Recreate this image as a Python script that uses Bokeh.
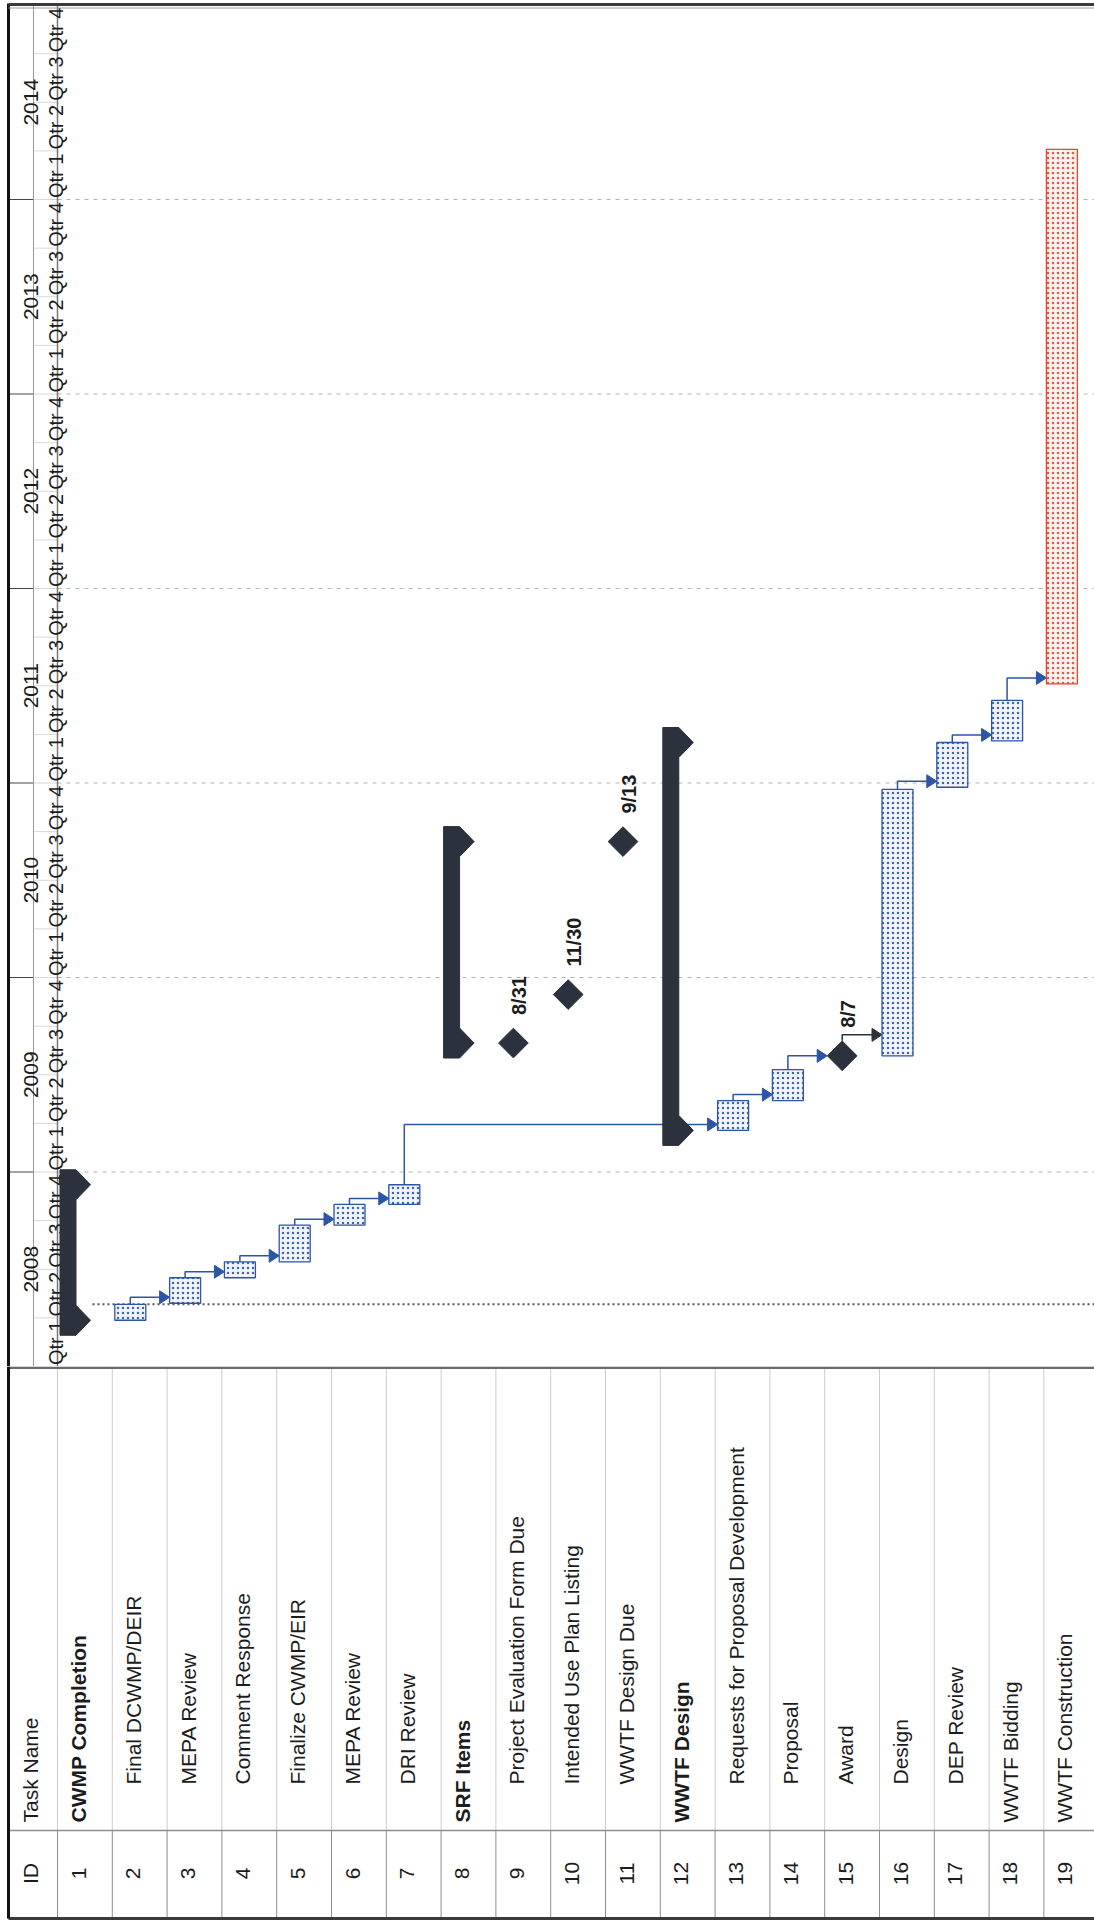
import numpy as np
import pandas as pd
from bokeh.plotting import figure
from bokeh.layouts import column
from bokeh.models import Range1d
from bokeh.core.properties import value
from bokeh.embed import file_html
from bokeh.resources import INLINE

# ---------------- data ----------------
task_ids = list(range(1, 20))
task_names = [
    "CWMP Completion", "Final DCWMP/DEIR", "MEPA Review", "Comment Response",
    "Finalize CWMP/EIR", "MEPA Review", "DRI Review", "SRF Items",
    "Project Evaluation Form Due", "Intended Use Plan Listing", "WWTF Design Due",
    "WWTF Design", "Requests for Proposal Development", "Proposal", "Award",
    "Design", "DEP Review", "WWTF Bidding", "WWTF Construction",
]
outline_level = [1, 2, 2, 2, 2, 2, 2, 1, 2, 2, 2, 1, 2, 2, 2, 2, 2, 1, 1]
task_type = ["summary", "task", "task", "task", "task", "task", "task", "summary",
             "milestone", "milestone", "milestone", "summary", "task", "task",
             "milestone", "task", "task", "task", "task"]
task_start = [None, "2008-03-28", "2008-04-29", "2008-06-16", "2008-07-16", "2008-09-23",
              "2008-11-01", None, "2009-08-31", "2009-11-30", "2010-09-13", None,
              "2009-03-20", "2009-05-15", "2009-08-07", "2009-08-07", "2010-12-24",
              "2011-03-21", "2011-07-06"]
task_finish = [None, "2008-04-27", "2008-06-16", "2008-07-16", "2008-09-23", "2008-11-01",
               "2008-12-08", None, "2009-08-31", "2009-11-30", "2010-09-13", None,
               "2009-05-15", "2009-07-12", "2009-08-07", "2010-12-20", "2011-03-18",
               "2011-06-05", "2014-04-05"]
critical = [False] * 18 + [True]
links_from = [2, 3, 4, 5, 6, 7, 13, 14, 15, 16, 17, 18]
links_to = [3, 4, 5, 6, 7, 13, 14, 15, 16, 17, 18, 19]
years = [2008, 2009, 2010, 2011, 2012, 2013, 2014]
quarter_labels = ["Qtr 1", "Qtr 2", "Qtr 3", "Qtr 4"]
status_date = "2008-04-27"

# ---------------- helpers ----------------
def dec_year(s):
    t = pd.Timestamp(s)
    n = 366 if t.is_leap_year else 365
    return t.year + (t.dayofyear - 1) / n

n_tasks = len(task_ids)
start = [dec_year(s) if s else None for s in task_start]
finish = [dec_year(s) if s else None for s in task_finish]
for i in range(n_tasks):
    if task_type[i] == "summary":
        kids = []
        for j in range(i + 1, n_tasks):
            if outline_level[j] <= outline_level[i]:
                break
            kids.append(j)
        start[i] = min(start[j] for j in kids)
        finish[i] = max(finish[j] for j in kids)

# layout constants (pixels)
W = 1094
H_CHART = 1366
H_TABLE = 554
RP = 54.8      # px per row
YP = 194.5     # px per year
X0 = -57 / RP
X1 = X0 + W / RP
T0 = 2008.0
T1 = T0 + H_CHART / YP

FONT = value("Liberation Sans")
DARK = "#2b323d"
BLUE = "#2d55a6"
RED = "#e8452c"
TXT = "#1c1c1c"

def px(v):
    return v / RP

def py(v):
    return v / YP

XL = px(8 - 57)     # outer left border
XQ = px(33 - 57)    # year / quarter divider

# ---------------- chart figure ----------------
pA = figure(width=W, height=H_CHART, x_range=Range1d(X0, X1), y_range=Range1d(T0, T1),
            output_backend="svg", toolbar_location=None, min_border=0,
            x_axis_location=None, y_axis_location=None, outline_line_color=None)
pA.grid.visible = False

# year gridlines
grid_years = [y for y in years[1:]]
pA.segment(x0=0, x1=X1, y0=grid_years, y1=grid_years, line_color="#b3b3b3",
           line_dash="4 5", line_width=1)
# status date line
sd = dec_year(status_date)
pA.segment(x0=[px(35)], x1=[X1], y0=[sd], y1=[sd], line_color="#555555",
           line_dash="2 3", line_width=2)

# header: quarter separators, year separators, dividers
qy = [y + q / 4 for y in years for q in range(4)] + [years[-1] + 1]
pA.segment(x0=XQ, x1=0, y0=qy, y1=qy, line_color="#b0b0b0", line_dash="1 1", line_width=1)
pA.segment(x0=XL, x1=XQ, y0=years + [years[-1] + 1], y1=years + [years[-1] + 1],
           line_color="#444444", line_width=1)
pA.segment(x0=[XQ, 0], x1=[XQ, 0], y0=T0, y1=T1 - py(4), line_color=["#999999", "#777777"],
           line_width=[1, 1.5])
pA.segment(x0=[XL], x1=[XL], y0=T0, y1=T1 - py(3), line_color="#111111", line_width=3)
pA.segment(x0=XL, x1=X1, y0=T1 - py(4), y1=T1 - py(4), line_color="#3a3a3a", line_width=3)
pA.segment(x0=XL, x1=X1, y0=T1 - py(7.5), y1=T1 - py(7.5), line_color="#9a9a9a", line_width=1)

# header labels
pA.text(x=px(30 - 57), y=[y + 0.5 for y in years], text=[str(y) for y in years],
        angle=np.pi / 2, text_align="center", text_baseline="alphabetic",
        text_font=FONT, text_font_size="21px", text_color=TXT)
q_y = [y + q / 4 + py(1.5) for y in years for q in range(4)]
q_t = [quarter_labels[q] for y in years for q in range(4)]
pA.text(x=px(55 - 57), y=q_y, text=q_t, angle=np.pi / 2, text_align="left",
        text_baseline="alphabetic", text_font=FONT, text_font_size="20px", text_color=TXT)

# links
lx, ly, ax, ay, lcol = [], [], [], [], []
for a, b in zip(links_from, links_to):
    ia, ib = a - 1, b - 1
    a_ms = task_type[ia] == "milestone"
    b_ms = task_type[ib] == "milestone"
    xv = ia + px(17.5 if a_ms else 18)
    y_from = finish[ia] + (py(15) if a_ms else 0)
    if b_ms:
        yh = max(y_from, start[ib])
    else:
        yh = max(y_from, start[ib]) + py(6)
    xtip = ib + px(2.5)
    lx.append([xv, xv, xtip - px(9)])
    ly.append([y_from, yh, yh])
    ax.append([xtip - px(10), xtip, xtip - px(10)])
    ay.append([yh + py(6.5), yh, yh - py(6.5)])
    lcol.append(DARK if a_ms else BLUE)
pA.multi_line(xs=lx, ys=ly, line_color=lcol, line_width=1.5)
pA.patches(xs=ax, ys=ay, fill_color=lcol, line_color=lcol, line_width=1)

# task bars
for crit in (False, True):
    idx = [i for i in range(n_tasks) if task_type[i] == "task" and critical[i] == crit]
    col = RED if crit else BLUE
    pA.quad(left=[i + px(2.5) for i in idx], right=[i + px(33.5) for i in idx],
            bottom=[start[i] for i in idx], top=[finish[i] for i in idx],
            fill_color="#fff3f1" if crit else "#f2f5fc", line_color=col, line_width=1.3,
            hatch_pattern=".", hatch_color=col, hatch_scale=5, hatch_alpha=0.9)

# summary bars
sx, sy = [], []
for i in range(n_tasks):
    if task_type[i] != "summary":
        continue
    s, e = start[i], finish[i]
    sx.append([i + px(2.5), i + px(18.5), i + px(33), i + px(18.5),
               i + px(18.5), i + px(33), i + px(18.5), i + px(2.5)])
    sy.append([e + py(15), e + py(15), e, e - py(15),
               s + py(15), s, s - py(15), s - py(15)])
pA.patches(xs=sx, ys=sy, fill_color=DARK, line_color=DARK, line_width=1)

# milestones
mi = [i for i in range(n_tasks) if task_type[i] == "milestone"]
pA.scatter(x=[i + px(17.5) for i in mi], y=[start[i] for i in mi], marker="square",
           angle=np.pi / 4, size=21, fill_color=DARK, line_color=DARK)
m_lbl = []
for i in mi:
    t = pd.Timestamp(task_start[i])
    m_lbl.append(f"{t.month}/{t.day}")
pA.text(x=[i + px(23) for i in mi], y=[start[i] + py(28) for i in mi], text=m_lbl,
        angle=np.pi / 2, text_align="left", text_baseline="alphabetic", text_font=FONT,
        text_font_size="20px", text_font_style="bold", text_color=TXT)

# ---------------- table figure ----------------
pB = figure(width=W, height=H_TABLE, x_range=pA.x_range, y_range=Range1d(H_TABLE, 0),
            output_backend="svg", toolbar_location=None, min_border=0,
            x_axis_location=None, y_axis_location=None, outline_line_color=None)
pB.grid.visible = False

ID_TOP = 464
BOT = 552
rows_x = list(range(0, n_tasks + 1))
pB.segment(x0=rows_x, x1=rows_x, y0=0, y1=ID_TOP, line_color="#cdcdcd", line_width=1)
pB.segment(x0=rows_x, x1=rows_x, y0=ID_TOP, y1=BOT, line_color="#8e8e8e", line_width=1)
pB.segment(x0=XL, x1=X1, y0=ID_TOP, y1=ID_TOP, line_color="#8e8e8e", line_width=1.5)
pB.segment(x0=XL, x1=X1, y0=1.2, y1=1.2, line_color="#6a6a6a", line_width=2.5)
pB.segment(x0=XL, x1=X1, y0=BOT, y1=BOT, line_color="#3a3a3a", line_width=3)
pB.segment(x0=XL, x1=XL, y0=0, y1=BOT, line_color="#111111", line_width=3)

pB.text(x=[px(30 - 57)], y=[456], text=["Task Name"], angle=np.pi / 2, text_align="left",
        text_baseline="alphabetic", text_font=FONT, text_font_size="21px", text_color=TXT)
pB.text(x=[px(30 - 57)], y=[507], text=["ID"], angle=np.pi / 2, text_align="center",
        text_baseline="alphabetic", text_font=FONT, text_font_size="21px", text_color=TXT)

for bold in (False, True):
    idx = [i for i in range(n_tasks) if (task_type[i] == "summary") == bold]
    pB.text(x=[i + px(21) for i in idx], y=[456 if outline_level[i] == 1 else 418 for i in idx],
            text=[task_names[i] for i in idx], angle=np.pi / 2, text_align="left",
            text_baseline="alphabetic", text_font=FONT, text_font_size="21px",
            text_font_style="bold" if bold else "normal", text_color=TXT)
pB.text(x=[i + px(21) for i in range(n_tasks)], y=507, text=[str(t) for t in task_ids],
        angle=np.pi / 2, text_align="center", text_baseline="alphabetic", text_font=FONT,
        text_font_size="21px", text_color=TXT)

layout = column(pA, pB, spacing=0)
open("out.html", "w").write(file_html(layout, INLINE))
